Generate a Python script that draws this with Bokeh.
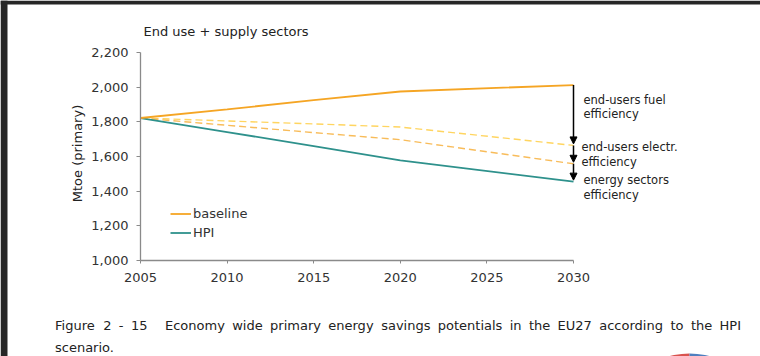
import math
from bokeh.plotting import figure
from bokeh.embed import file_html
from bokeh.resources import INLINE
from bokeh.models import (Label, Arrow, NormalHead, Legend, LegendItem, FixedTicker,
                          NumeralTickFormatter, Range1d, BoxAnnotation)

# ---------------- data ----------------
years = [2005, 2010, 2015, 2020, 2030]
baseline = [1822, 1872, 1925, 1975, 2012]
fuel_eff = [1822, 1805, 1788, 1770, 1664]      # after end-users fuel efficiency
electr_eff = [1822, 1780, 1738, 1697, 1558]    # after end-users electricity efficiency
hpi = [1822, 1741, 1660, 1578, 1455]
x_ticks = [2005, 2010, 2015, 2020, 2025, 2030]
y_ticks = [1000, 1200, 1400, 1600, 1800, 2000, 2200]
title_text = "End use + supply sectors"
y_label = "Mtoe (primary)"
arrow_labels = [["end-users fuel", "efficiency"],
                ["end-users electr.", "efficiency"],
                ["energy sectors", "efficiency"]]
caption_head = ["Figure", "2", "-", "15"]
caption_line1 = ["Economy", "wide", "primary", "energy", "savings", "potentials", "in",
                 "the", "EU27", "according", "to", "the", "HPI"]
caption_line2 = ["scenario."]

FONT = "DejaVu Sans"
TXT = "#333333"

# ---------------- geometry (page pixels) ----------------
PAGE_W, PAGE_H = 760, 356
FL, FT, FR, FB = 140, 52, 573, 260   # data area: 2005..2030 x 2200..1000
XPX = (x_ticks[-1] - x_ticks[0]) / (FR - FL)
YPX = (y_ticks[-1] - y_ticks[0]) / (FB - FT)


def X(px):
    return x_ticks[0] + (px - FL) * XPX


def Y(py):
    return y_ticks[0] + (FB - py) * YPX


# the frame covers the whole canvas; axes are pinned with fixed_location
p = figure(width=PAGE_W, height=PAGE_H, output_backend="svg", toolbar_location=None,
           x_range=Range1d(X(0), X(PAGE_W)), y_range=Range1d(Y(PAGE_H), Y(0)),
           min_border=0, min_border_left=0, min_border_right=0,
           min_border_top=0, min_border_bottom=0)
p.outline_line_color = None
p.xgrid.grid_line_color = None
p.ygrid.grid_line_color = None
p.background_fill_color = "white"
p.border_fill_color = "white"

for ax in (p.xaxis[0], p.yaxis[0]):
    ax.axis_line_color = "#8a8a8a"
    ax.axis_line_width = 1.3
    ax.major_tick_line_color = "#8a8a8a"
    ax.minor_tick_line_color = None
    ax.major_label_text_font = FONT
    ax.major_label_text_font_size = "13px"
    ax.major_label_text_color = TXT
    ax.major_tick_in = 0

p.xaxis.ticker = FixedTicker(ticks=x_ticks)
p.xaxis.bounds = (x_ticks[0], x_ticks[-1])
p.xaxis.fixed_location = y_ticks[0]
p.xaxis.major_tick_out = 3
p.xaxis.major_label_standoff = 9
p.yaxis.ticker = FixedTicker(ticks=y_ticks)
p.yaxis.bounds = (y_ticks[0], y_ticks[-1])
p.yaxis.fixed_location = x_ticks[0]
p.yaxis.formatter = NumeralTickFormatter(format="0,0")
p.yaxis.major_tick_out = 4
p.yaxis.major_label_standoff = 8

# ---------------- page border (dark) ----------------
p.add_layout(BoxAnnotation(left=X(0), right=X(PAGE_W), bottom=Y(4), top=Y(0),
                           fill_color="#262626", fill_alpha=1, line_color=None))
p.add_layout(BoxAnnotation(left=X(0), right=X(7), bottom=Y(PAGE_H), top=Y(0),
                           fill_color="#262626", fill_alpha=1, line_color=None))

# ---------------- lines ----------------
p.line(years, fuel_eff, line_color="#ffd560", line_width=1.4, line_dash="7 4")
p.line(years, electr_eff, line_color="#f8bc5a", line_width=1.4, line_dash="7 4")
r_hpi = p.line(years, hpi, line_color="#2e918c", line_width=1.8)
r_base = p.line(years, baseline, line_color="#f5a524", line_width=1.8)

# ---------------- arrows ----------------
ends = [baseline[-1], fuel_eff[-1], electr_eff[-1], hpi[-1]]
for a, b in zip(ends[:-1], ends[1:]):
    p.add_layout(Arrow(end=NormalHead(size=7, fill_color="black", line_color="black"),
                       x_start=years[-1], y_start=a, x_end=years[-1], y_end=b + 1.5 * YPX,
                       line_color="black", line_width=1.5))


def label(px, py, text, size="13px", **kw):
    p.add_layout(Label(x=X(px), y=Y(py), text=text, text_font=FONT, text_font_size=size,
                       text_color="#222222", text_baseline="middle",
                       text_align=kw.pop("align", "left"), **kw))


label_px = [[(583, 99), (583, 113)], [(581, 146), (581, 161)], [(583, 179), (583, 194)]]
for lines, poss in zip(arrow_labels, label_px):
    for t, (px, py) in zip(lines, poss):
        label(px, py, t, size="11.5px")

# ---------------- title and axis label ----------------
label(143, 30.5, title_text)
label(77, 153, y_label, align="center", angle=math.pi / 2)

# ---------------- legend ----------------
legend = Legend(items=[LegendItem(label="baseline", renderers=[r_base]),
                       LegendItem(label="HPI", renderers=[r_hpi])],
                location=(170, PAGE_H - 239.5), padding=0, margin=0, border_line_alpha=0,
                background_fill_alpha=0, label_text_font=FONT, label_text_font_size="13px",
                label_text_color=TXT, glyph_width=21, glyph_height=15, label_height=15,
                label_standoff=2, spacing=4)
p.add_layout(legend)

# ---------------- caption (justified, word by word) ----------------
CW = {' ': .318, 'a': .613, 'b': .635, 'c': .550, 'd': .635, 'e': .615, 'f': .352, 'g': .635,
      'h': .634, 'i': .278, 'l': .278, 'm': .974, 'n': .634, 'o': .612, 'p': .635, 'r': .411,
      's': .521, 't': .392, 'u': .634, 'v': .592, 'w': .818, 'y': .592, 'E': .632, 'F': .575,
      'H': .752, 'I': .295, 'P': .603, 'U': .732, '-': .361, '.': .318, ',': .318}
CAP_SIZE = 13


def wwidth(w):
    return sum(CW.get(ch, .636) for ch in w) * CAP_SIZE


def place(words, x0, gap, py):
    x = x0
    for w in words:
        label(x, py, w, size=f"{CAP_SIZE}px")
        x += wwidth(w) + gap


x_start, x_body, x_end = 54.5, 164.5, 740.5
body_w = sum(wwidth(w) for w in caption_line1)
gap = (x_end - x_body - body_w) / (len(caption_line1) - 1)
place(caption_head, x_start, gap, 325)
place(caption_line1, x_body, gap, 325)
place(caption_line2, x_start, 0, 347)

# small logo peeking at the bottom right
p.wedge(x=[X(689)], y=[Y(432)], radius=79, radius_units="screen",
        start_angle=[math.pi / 2], end_angle=[math.pi], fill_color="#d9534f", line_color=None)
p.wedge(x=[X(689)], y=[Y(432)], radius=79, radius_units="screen",
        start_angle=[0.0], end_angle=[math.pi / 2], fill_color="#4f7fbf", line_color=None)

html = file_html(p, INLINE)
html = html.replace(
    "<head>",
    "<head><style>html,body{margin:0 !important;padding:0 !important;"
    "overflow:hidden !important;background:white;}</style>", 1)
open("out.html", "w").write(html)
